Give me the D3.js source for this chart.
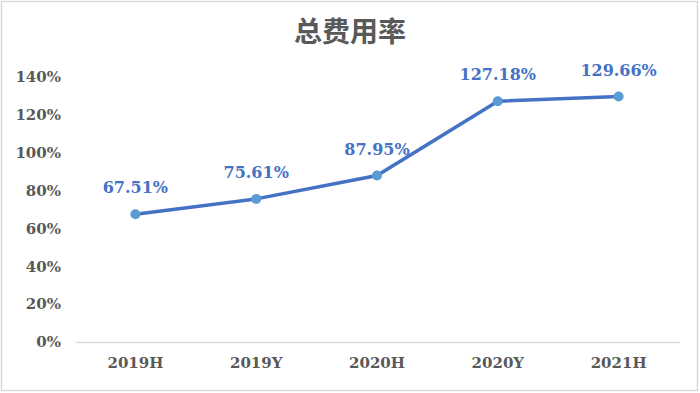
<!DOCTYPE html>
<html>
<head>
<meta charset="utf-8">
<script src="https://cdn.jsdelivr.net/npm/d3@7"></script>
<style>
  body { margin: 0; background: #fff; }
  .tick text { font-family: "DejaVu Serif", serif; font-weight: bold; fill: #595959; }
</style>
</head>
<body>
<div id="chart"></div>
<script>
var categories = ["2019H", "2019Y", "2020H", "2020Y", "2021H"];
var rates = [67.51, 75.61, 87.95, 127.18, 129.66];
var yTicks = [0, 20, 40, 60, 80, 100, 120, 140];
var title = "总费用率";

var svgWidth = 700;
var svgHeight = 393;
var margin = { top: 77, right: 21, bottom: 51, left: 75 };
var width = svgWidth - margin.left - margin.right;
var height = svgHeight - margin.top - margin.bottom;

var svg = d3.select("#chart")
  .append("svg")
  .attr("width", svgWidth)
  .attr("height", svgHeight);

// outer frame
svg.append("rect")
  .attr("x", 1.5).attr("y", 1.5)
  .attr("width", svgWidth - 4).attr("height", svgHeight - 4)
  .attr("fill", "#fff")
  .attr("stroke", "#d9d9d9")
  .attr("stroke-width", 1.5);

svg.append("text")
  .attr("x", svgWidth / 2)
  .attr("y", 42)
  .attr("text-anchor", "middle")
  .attr("font-family", "'Noto Sans CJK SC', sans-serif")
  .attr("font-weight", "bold")
  .attr("font-size", 28)
  .attr("fill", "#595959")
  .text(title);

var chartGroup = svg.append("g")
  .attr("transform", `translate(${margin.left}, ${margin.top})`);

var xScale = d3.scaleBand()
  .domain(categories)
  .range([0, width]);

var yScale = d3.scaleLinear()
  .domain([0, 140])
  .range([height, 0]);

var bottomAxis = d3.axisBottom(xScale).tickSize(0).tickPadding(15);
var leftAxis = d3.axisLeft(yScale).tickValues(yTicks).tickSize(0).tickPadding(14)
  .tickFormat(d => d + "%");

var xg = chartGroup.append("g")
  .attr("transform", `translate(0, ${height})`)
  .call(bottomAxis);
xg.select(".domain").attr("stroke", "#d9d9d9").attr("stroke-width", 1.5);
xg.selectAll("text").attr("font-size", 15);

var yg = chartGroup.append("g")
  .call(leftAxis);
yg.select(".domain").remove();
yg.selectAll("text").attr("font-size", 15);

var cx = d => xScale(d) + xScale.bandwidth() / 2;

var line = d3.line()
  .x((d, i) => cx(categories[i]))
  .y(d => yScale(d));

chartGroup.append("path")
  .datum(rates)
  .attr("fill", "none")
  .attr("stroke", "#4472c4")
  .attr("stroke-width", 3.5)
  .attr("d", line);

chartGroup.selectAll("circle")
  .data(rates)
  .enter()
  .append("circle")
  .attr("cx", (d, i) => cx(categories[i]))
  .attr("cy", d => yScale(d))
  .attr("r", 5)
  .attr("fill", "#5b9bd5");

chartGroup.selectAll(".label")
  .data(rates)
  .enter()
  .append("text")
  .attr("class", "label")
  .attr("x", (d, i) => cx(categories[i]))
  .attr("y", d => yScale(d) - 21)
  .attr("text-anchor", "middle")
  .attr("font-family", "'DejaVu Serif', serif")
  .attr("font-weight", "bold")
  .attr("font-size", 16)
  .attr("fill", "#4472c4")
  .text(d => d.toFixed(2) + "%");
</script>
</body>
</html>
